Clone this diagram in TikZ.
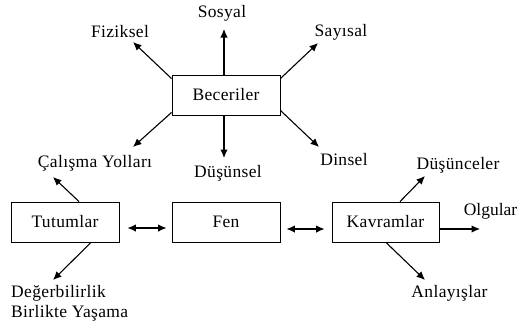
\documentclass[tikz,border=0pt]{standalone}
\usepackage{fontspec}
\setmainfont{Liberation Serif}[LetterSpace=2]
\newfontfamily\tightserif{Liberation Serif}
\usetikzlibrary{arrows.meta,calc}
\begin{document}
\begin{tikzpicture}[x=1pt,y=-1pt,
  box/.style={draw,line width=0.9pt,minimum width=108pt,minimum height=40pt,inner sep=0pt,font=\fontsize{17.5}{20}\selectfont},
  lbl/.style={inner sep=0pt,font=\fontsize{17.5}{20}\selectfont},
  arr/.style={line width=1.1pt,-{Latex[length=8.5pt,width=7.5pt]}},
  darr/.style={line width=1.1pt,{Latex[length=8.5pt,width=7.5pt]}-{Latex[length=8.5pt,width=7.5pt]}}]
\useasboundingbox (0,0) rectangle (518,325);
% boxes
\node[box] (bec) at (226,95) {Beceriler};
\node[box] (fen) at (226,222) {Fen};
\node[box] (tut) at (65,222) {Tutumlar};
\node[box,minimum width=107pt] (kav) at (385.5,222) {Kavramlar};
% labels
\node[lbl] (sos) at (222,13) {Sosyal};
\node[lbl] (fiz) at (120,32) {Fiziksel};
\node[lbl] (say) at (341,32) {Sayısal};
\node[lbl] (dus) at (228,173) {Düşünsel};
\node[lbl] (din) at (344,160) {Dinsel};
\node[lbl] (cal) at (95,163) {Çalışma Yolları};
\node[lbl] (dsc) at (458,165) {Düşünceler};
\node[lbl,anchor=east,font=\tightserif\fontsize{17.5}{20}\selectfont] (olg) at (517.5,211) {Olgular};
\node[lbl] (anl) at (449.5,293) {Anlayışlar};
\node[lbl,anchor=west,align=left] (deg) at (11,303) {Değerbilirlik\\Birlikte Yaşama};
% tips
\coordinate (tSos) at (224,29);
\coordinate (tFiz) at (133,42);
\coordinate (tSay) at (318,43);
\coordinate (tDus) at (224,158);
\coordinate (tCalB) at (133,147);
\coordinate (tDin) at (319,147);
\coordinate (tCalT) at (53,177);
\coordinate (tDeg) at (53,280);
\coordinate (tDsc) at (425,176);
\coordinate (tOlg) at (480,229);
\coordinate (tAnl) at (425,280);
% arrows
\draw[arr] ([xshift=-2pt]bec.north) -- (tSos);
\draw[arr] ([yshift=-4pt]bec.north west) -- (tFiz);
\draw[arr] ([yshift=-4pt]bec.north east) -- (tSay);
\draw[arr] ([xshift=-2pt]bec.south) -- (tDus);
\draw[arr] ([yshift=3pt]bec.south west) -- (tCalB);
\draw[arr] ([yshift=5pt]bec.south east) -- (tDin);
\draw[arr] ([xshift=14pt]tut.north) -- (tCalT);
\draw[arr] ([xshift=26pt]tut.south) -- (tDeg);
\draw[darr] ([xshift=8pt,yshift=-6pt]tut.east) -- ([xshift=-5pt,yshift=-6pt]fen.west);
\draw[darr] ([xshift=6pt,yshift=-7pt]fen.east) -- ([xshift=-7pt,yshift=-7pt]kav.west);
\draw[arr] ([xshift=14.5pt]kav.north) -- (tDsc);
\draw[arr] ([yshift=-7pt]kav.east) -- (tOlg);
\draw[arr] ([xshift=0.5pt]kav.south) -- (tAnl);
\end{tikzpicture}
\end{document}
